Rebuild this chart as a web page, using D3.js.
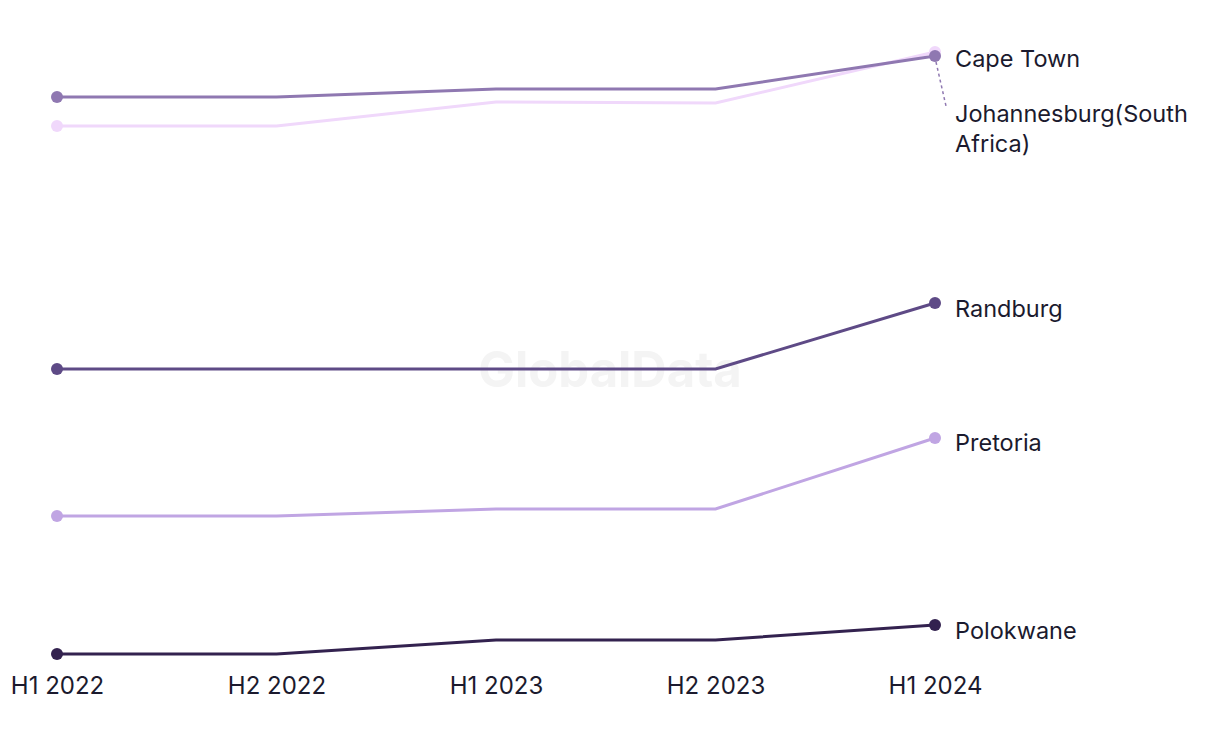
<!DOCTYPE html>
<html>
<head>
<meta charset="utf-8">
<script src="https://cdn.jsdelivr.net/npm/d3@7/dist/d3.min.js"></script>
<style>
  html, body { margin: 0; padding: 0; background: #ffffff; }
  svg { display: block; font-family: Inter, "Noto Sans", sans-serif; }
</style>
</head>
<body>
<svg id="chart" width="1220" height="744"></svg>
<script>
// ---- Data ----
const periods = ["H1 2022", "H2 2022", "H1 2023", "H2 2023", "H1 2024"];
const johannesburg = [110.8, 110.8, 115.6, 115.4, 125.6];
const capeTown     = [116.6, 116.6, 118.2, 118.2, 124.8];
const randburg     = [62.2, 62.2, 62.2, 62.2, 75.4];
const pretoria     = [32.8, 32.8, 34.2, 34.2, 48.4];
const polokwane    = [5.2, 5.2, 8.0, 8.0, 11.0];
const seriesNames  = ["Johannesburg(South Africa)", "Cape Town", "Randburg", "Pretoria", "Polokwane"];

const series = [
  { name: seriesNames[0], values: johannesburg, color: "#f0d8fb", label: ["Johannesburg(South", "Africa)"], labelDy: 64, leader: true },
  { name: seriesNames[1], values: capeTown,     color: "#8f78b1", label: ["Cape Town"], labelDy: 5 },
  { name: seriesNames[2], values: randburg,     color: "#5e4a86", label: ["Randburg"], labelDy: 8 },
  { name: seriesNames[3], values: pretoria,     color: "#c0a5e3", label: ["Pretoria"], labelDy: 7 },
  { name: seriesNames[4], values: polokwane,    color: "#33224f", label: ["Polokwane"], labelDy: 8 }
];

const svg = d3.select("#chart");

const x = d3.scalePoint().domain(periods).range([57, 935]);
const y = d3.scaleLinear().domain([0, 136]).range([680, 0]);

// watermark
svg.append("text")
  .attr("x", 610).attr("y", 374)
  .attr("text-anchor", "middle").attr("dominant-baseline", "middle")
  .attr("font-size", 49).attr("font-weight", 700)
  .attr("fill", "#f4f4f4")
  .text("GlobalData");

const line = d3.line().x((d, i) => x(periods[i])).y(d => y(d));

series.forEach(s => {
  svg.append("path")
    .attr("d", line(s.values))
    .attr("fill", "none")
    .attr("stroke", s.color)
    .attr("stroke-width", 3);
  const endpoints = [0, s.values.length - 1];
  endpoints.forEach(i => {
    svg.append("circle")
      .attr("cx", x(periods[i])).attr("cy", y(s.values[i]))
      .attr("r", 6)
      .attr("fill", s.color);
  });
});

// labels
series.forEach(s => {
  const last = s.values.length - 1;
  const px = x(periods[last]);
  const py = y(s.values[last]);
  if (s.leader) {
    const cy = y(capeTown[last]);
    svg.append("line")
      .attr("x1", px + 1).attr("y1", cy + 6)
      .attr("x2", px + 11).attr("y2", cy + 50)
      .attr("stroke", "#8f78b1").attr("stroke-width", 1.5)
      .attr("stroke-dasharray", "3,3");
  }
  const t = svg.append("text")
    .attr("x", px + 20)
    .attr("y", py + s.labelDy)
    .attr("dominant-baseline", "middle")
    .attr("font-size", 23.5)
    .attr("fill", "#1b1a2e");
  s.label.forEach((ln, k) => {
    t.append("tspan").attr("x", px + 20).attr("dy", k === 0 ? 0 : 30).text(ln);
  });
});

// x axis labels
const axis = d3.axisBottom(x).tickSize(0).tickPadding(0);
const g = svg.append("g").attr("transform", "translate(0,677)").call(axis);
g.select(".domain").remove();
g.selectAll("text")
  .attr("font-size", 24)
  .attr("font-family", "Inter, 'Noto Sans', sans-serif")
  .attr("fill", "#1b1a2e");
</script>
</body>
</html>
